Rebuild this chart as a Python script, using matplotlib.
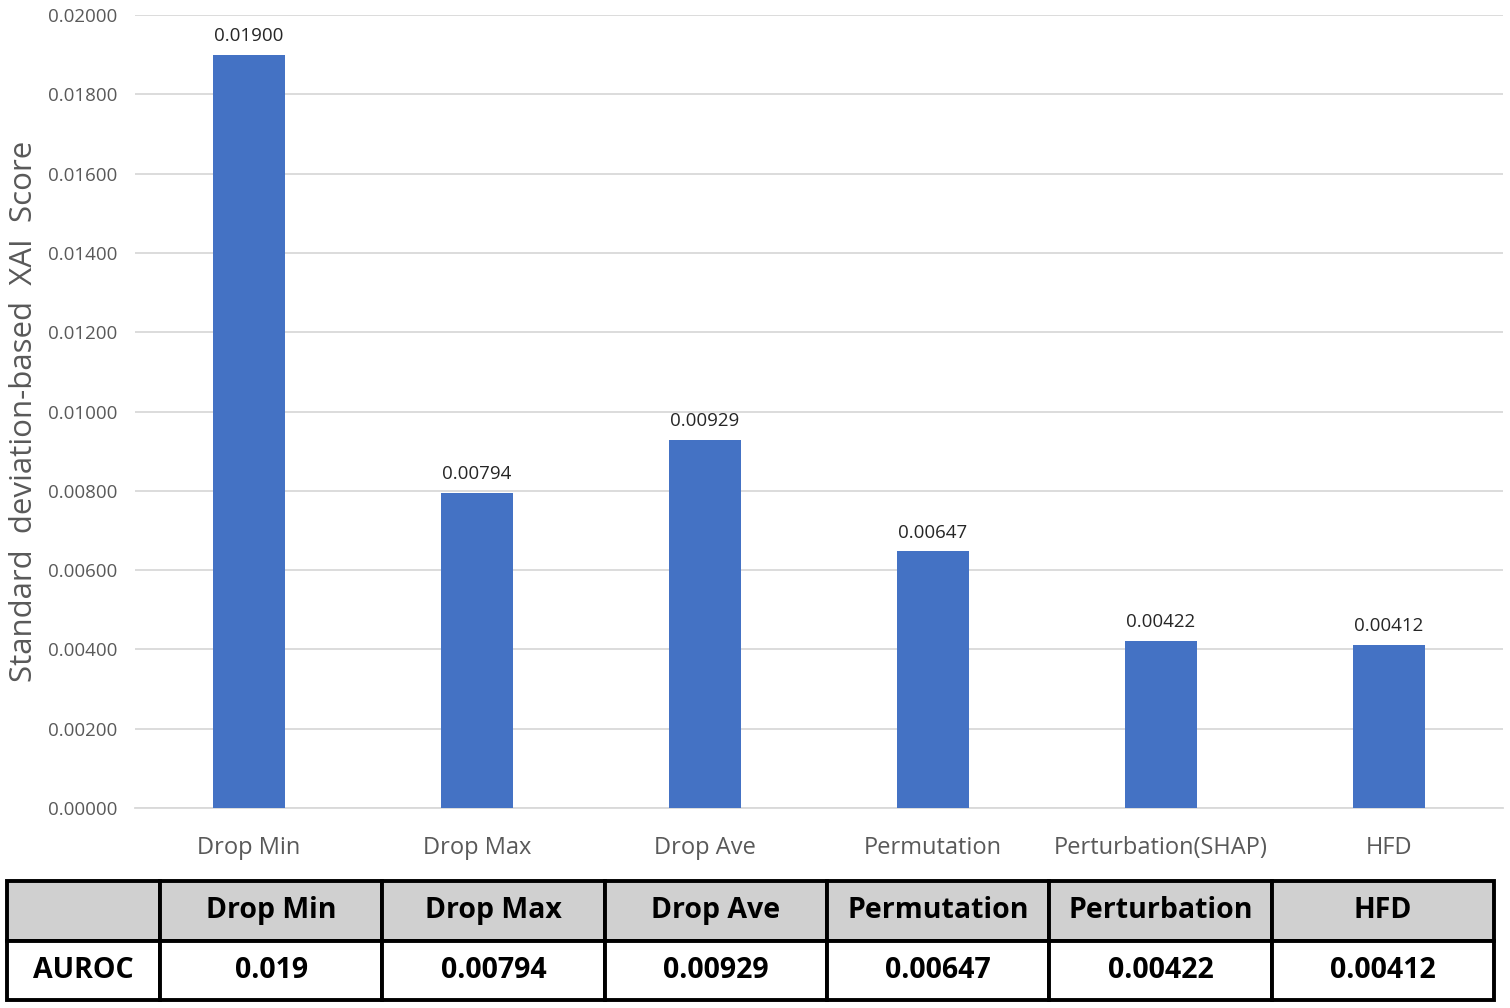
import matplotlib.pyplot as plt

plt.rcParams['font.family'] = ['Open Sans', 'DejaVu Sans']

methods = ['Drop Min', 'Drop Max', 'Drop Ave', 'Permutation', 'Perturbation(SHAP)', 'HFD']
scores = [0.01900, 0.00794, 0.00929, 0.00647, 0.00422, 0.00412]
bar_labels = ['0.01900', '0.00794', '0.00929', '0.00647', '0.00422', '0.00412']
yticks = [0.000, 0.002, 0.004, 0.006, 0.008, 0.010, 0.012, 0.014, 0.016, 0.018, 0.020]

table_header = ['', 'Drop Min', 'Drop Max', 'Drop Ave', 'Permutation', 'Perturbation', 'HFD']
table_row = ['AUROC', '0.019', '0.00794', '0.00929', '0.00647', '0.00422', '0.00412']

fig = plt.figure(figsize=(15.1, 10.08), dpi=100)
ax = fig.add_axes([0.0894, 0.1984, 0.906, 0.7867])

x = range(len(methods))
bars = ax.bar(x, scores, width=0.315, color='#4472C4', zorder=3)
for b, lab in zip(bars, bar_labels):
    ax.text(b.get_x() + b.get_width() / 2, b.get_height() + 0.00025, lab,
            ha='center', va='bottom', fontsize=13.5, color='#262626')

ax.set_xlim(-0.5, len(methods) - 0.5)
ax.set_ylim(0, 0.02)
ax.set_yticks(yticks)
ax.set_yticklabels([f'{v:.5f}' for v in yticks], fontsize=13.5, color='#595959')
ax.set_xticks(list(x))
ax.set_xticklabels(methods, fontsize=17, color='#595959')
ax.tick_params(axis='both', length=0)
ax.tick_params(axis='x', pad=20)
ax.tick_params(axis='y', pad=13)
ax.grid(axis='y', color='#d9d9d9', linewidth=1.3, zorder=0)
for s in ['top', 'right', 'left']:
    ax.spines[s].set_visible(False)
ax.spines['bottom'].set_color('#d9d9d9')
ax.spines['bottom'].set_linewidth(1.3)
ax.set_ylabel('Standard  deviation-based  XAI  Score', fontsize=22.5, color='#595959', labelpad=6)

# table under the chart
tax = fig.add_axes([0.0046, 0.0079, 0.9848, 0.118])
tax.axis('off')
col_w = [153] + [222] * 6
tot = sum(col_w)
tbl = tax.table(cellText=[table_header, table_row], colWidths=[w / tot for w in col_w],
                cellLoc='center', bbox=[0, 0, 1, 1])
tbl.auto_set_font_size(False)
for (r, c), cell in tbl.get_celld().items():
    cell.set_linewidth(2.8)
    cell.set_edgecolor('black')
    cell.set_facecolor('#d0d0d0' if r == 0 else 'white')
    cell.get_text().set_fontsize(20.5)
    cell.get_text().set_fontweight('bold')
    cell.get_text().set_color('black')

fig.savefig('out.png', dpi=100)
